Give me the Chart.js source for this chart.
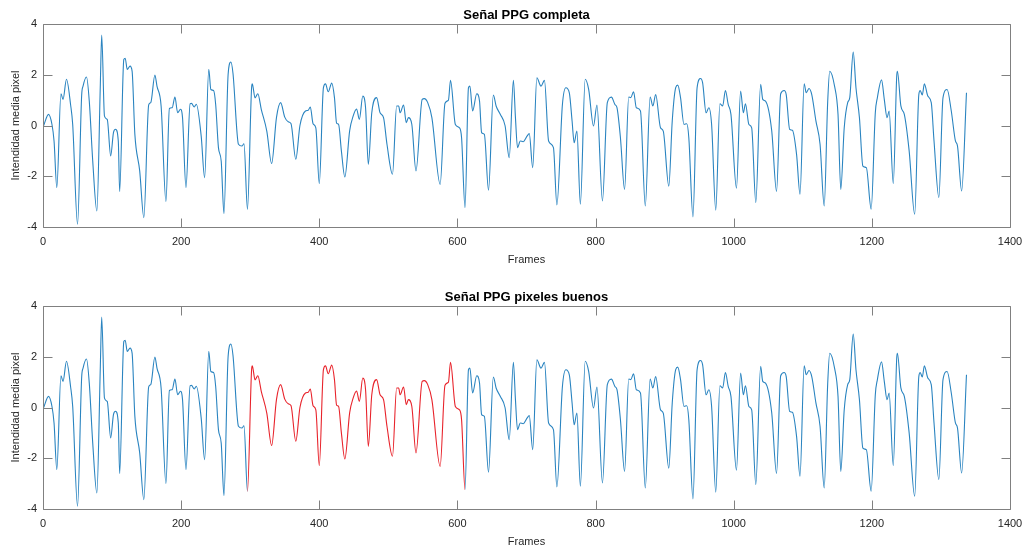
<!DOCTYPE html>
<html>
<head>
<meta charset="utf-8">
<title>Señal PPG</title>
<script src="https://cdn.jsdelivr.net/npm/chart.js@4.4.0/dist/chart.umd.min.js"></script>
<style>
  html, body { margin: 0; padding: 0; background: #fff; overflow: hidden; }
  .panel { position: absolute; left: 0; width: 1026px; height: 282px; }
  #top-panel { top: 0; }
  #bottom-panel { top: 282px; }
</style>
</head>
<body>
<div class="panel" id="top-panel"><canvas id="ppgFull" width="1026" height="282"></canvas></div>
<div class="panel" id="bottom-panel"><canvas id="ppgGood" width="1026" height="282"></canvas></div>
<script>
// PPG samples (frame number / mean pixel intensity), one line per beat
let frames = [
    1, 8, 13, 16, 20,
    26, 29, 34, 40, 43, 50,
    56, 58, 63, 67, 72, 78,
    83, 85, 89, 93, 98, 102, 105, 109, 111,
    117, 119, 122, 126, 129, 133, 140, 146,
    153, 156, 162, 165, 171, 178,
    183, 187, 191, 195, 199, 202, 207,
    213, 215, 219, 222, 229, 234,
    240, 243, 247, 250, 254, 258, 262,
    268, 272, 275, 283, 288, 291, 296,
    302, 303, 307, 311, 316, 324, 331,
    338, 344, 350, 355, 359, 366,
    372, 380, 384, 387, 391, 395, 400,
    406, 409, 413, 418, 422, 425, 428, 432, 437,
    444, 449, 454, 458, 463, 467, 471,
    476, 483, 488, 493, 498, 506,
    512, 515, 517, 522, 526, 529, 534, 540,
    549, 552, 557, 563, 575,
    582, 587, 590, 597, 603, 606, 611,
    616, 618, 622, 628, 632, 635, 639, 645,
    652, 656, 662, 669, 675,
    681, 684, 687, 691, 695, 701, 704, 709,
    715, 721, 726, 732, 739, 744,
    752, 757, 762, 766, 769, 773, 778,
    785, 790, 797, 802, 810,
    817, 823, 828, 831, 836, 842,
    848, 851, 855, 859, 865, 872,
    879, 883, 887, 894, 898, 906,
    911, 916, 919, 923, 928, 932, 935, 941,
    947, 952, 955, 960, 964, 968, 974,
    980, 984, 988, 992, 996, 1004,
    1010, 1014, 1017, 1022, 1026, 1032,
    1039, 1042, 1046, 1055, 1062,
    1068, 1073, 1076, 1081, 1085, 1091, 1096,
    1102, 1105, 1109, 1113, 1119, 1125, 1131,
    1136, 1139, 1146, 1151, 1155,
    1160, 1165, 1168, 1173, 1177, 1182, 1187, 1192, 1199,
    1205, 1208, 1214, 1218, 1222, 1225, 1231,
    1236, 1237, 1242, 1247, 1254, 1262,
    1268, 1270, 1273, 1276, 1281, 1286, 1290, 1297,
    1303, 1309, 1315, 1321, 1324, 1330, 1337
];

let intensity = [
    0.0, 0.44, 0.04, -0.61, -2.45,
    1.25, 1.03, 1.82, 0.81, 0.04, -3.89,
    1.2, 1.55, 1.91, 0.96, -1.4, -3.37,
    1.62, 3.56, 0.37, 0.24, -1.2, -0.28, -0.15, -0.61, -2.6,
    2.6, 2.65, 2.21, 2.34, 2.14, -0.35, -1.79, -3.63,
    0.81, 0.9, 1.99, 1.55, 0.77, -3.0,
    0.67, 0.7, 1.12, 0.5, 0.64, 0.31, -2.45,
    0.86, 0.87, 0.73, 0.84, -0.41, -2.06,
    2.21, 1.42, 1.38, 0.83, -0.87, -1.4, -3.47,
    2.01, 2.5, 2.07, -0.74, -0.81, -0.72, -3.3,
    1.49, 1.64, 1.09, 1.25, 0.64, -0.22, -1.5,
    0.31, 0.9, 0.33, 0.15, 0.08, -1.33,
    0.0, 0.57, 0.6, 0.73, 0.07, -0.09, -2.29,
    1.49, 1.64, 1.33, 1.67, 1.09, 0.1, 0.04, -1.0, -2.03,
    -0.2, 0.37, 0.65, 0.24, 1.16, 0.7, -1.53,
    0.5, 1.1, 0.5, 0.31, -0.74, -1.92,
    0.77, 0.77, 0.5, 0.81, 0.11, 0.31, 0.04, -1.79,
    1.03, 1.06, 0.9, 0.31, -2.32,
    0.88, 1.0, 1.78, 0.04, -0.09, -0.48, -3.24,
    1.49, 1.55, 0.57, 1.25, 0.96, -0.28, -0.35, -2.55,
    1.2, 0.77, 0.44, -0.01, -1.27,
    1.78, 0.31, -0.87, -0.61, -0.64, -0.41, -0.32, -1.66,
    1.88, 1.55, 1.78, -0.61, -0.87, -3.13,
    0.83, 1.49, 1.29, 0.18, -0.68, -0.22, -3.1,
    1.82, 1.42, -0.02, 0.81, -2.97,
    0.9, 1.12, 0.83, 0.7, -0.48, -2.52,
    1.12, 1.1, 1.33, 0.7, 0.57, -3.17,
    1.12, 0.77, 1.22, -0.09, -0.22, -2.39,
    0.18, 1.49, 1.59, 1.1, 0.04, 0.07, -0.48, -3.6,
    1.49, 1.85, 1.68, 0.5, 0.7, 0.04, -3.34,
    0.86, 0.77, 1.38, 0.83, 0.44, -2.47,
    1.36, 0.5, 0.86, 0.04, -0.09, -3.04,
    1.62, 1.03, 0.96, -0.2, -2.6,
    1.25, 1.38, 1.22, -0.15, -0.19, -1.14, -2.71,
    1.64, 1.29, 1.46, 1.22, 0.18, -0.74, -3.17,
    0.9, 2.14, 1.55, 0.44, -2.52,
    -0.09, 0.9, 1.1, 2.89, 1.49, 0.31, -1.6, -1.66, -3.3,
    0.5, 1.1, 1.8, 1.03, 0.31, 0.57, -2.29,
    1.95, 2.14, 0.77, 0.44, -1.0, -3.5,
    1.22, 1.38, 1.2, 1.64, 1.16, 0.9, -0.61, -2.84,
    1.1, 1.42, 0.57, -0.61, -0.81, -2.58, 1.29
];

// frames kept as "good pixels" in the second plot
let goodStart = 296;
let goodEnd = 611;

let xTicks = [0, 200, 400, 600, 800, 1000, 1200, 1400];
let yTicks = [-4, -2, 0, 2, 4];

const fontFamily = "'Liberation Sans', Arial, Helvetica, sans-serif";
const textColor = '#262626';
const axisColor = '#808080';
const blue = '#2a84c0';
const red = '#e8232b';
const tickLen = 9;

let points = frames.map((f, i) => ({ x: f, y: intensity[i] }));

// MATLAB-like box with inward ticks, title centred over the axes
const axesBox = {
    id: 'axesBox',
    afterDatasetsDraw(chart, args, opts) {
        const { ctx, chartArea: a, scales } = chart;
        const l = Math.round(a.left) + 0.5, r = Math.round(a.right) + 0.5;
        const t = Math.round(a.top) + 0.5, b = Math.round(a.bottom) + 0.5;
        ctx.save();
        ctx.strokeStyle = axisColor;
        ctx.lineWidth = 1;
        ctx.beginPath();
        ctx.rect(l, t, r - l, b - t);
        xTicks.forEach((v) => {
            let px = Math.round(scales.x.getPixelForValue(v)) + 0.5;
            ctx.moveTo(px, b); ctx.lineTo(px, b - tickLen);
            ctx.moveTo(px, t); ctx.lineTo(px, t + tickLen);
        });
        yTicks.forEach((v) => {
            let py = Math.round(scales.y.getPixelForValue(v)) + 0.5;
            ctx.moveTo(l, py); ctx.lineTo(l + tickLen, py);
            ctx.moveTo(r, py); ctx.lineTo(r - tickLen, py);
        });
        ctx.stroke();

        ctx.fillStyle = '#000';
        ctx.font = 'bold 13px ' + fontFamily;
        ctx.textAlign = 'center';
        ctx.textBaseline = 'alphabetic';
        ctx.fillText(opts.text, (a.left + a.right) / 2, 19);
        ctx.restore();
    }
};

function makeOptions(titleText) {
    return {
        responsive: false,
        animation: false,
        layout: { padding: { left: 0, right: 16, top: 24, bottom: 0 } },
        plugins: {
            legend: { display: false },
            tooltip: { enabled: false },
            title: { display: false },
            axesBox: { text: titleText }
        },
        scales: {
            x: {
                type: 'linear',
                min: 0,
                max: 1400,
                afterBuildTicks: (s) => { s.ticks = xTicks.map((v) => ({ value: v })); },
                ticks: {
                    color: textColor,
                    font: { family: fontFamily, size: 11 },
                    padding: 8,
                    maxRotation: 0,
                    callback: (v) => String(v)
                },
                grid: { display: false, drawTicks: false },
                border: { display: false },
                title: {
                    display: true,
                    text: 'Frames',
                    color: textColor,
                    font: { family: fontFamily, size: 11 },
                    padding: { top: 0, bottom: 15 }
                },
                afterFit: (s) => {
                    s.height = 55;
                    s.paddingLeft = 0;
                    s.paddingRight = 0;
                }
            },
            y: {
                type: 'linear',
                min: -4,
                max: 4,
                afterBuildTicks: (s) => { s.ticks = yTicks.map((v) => ({ value: v })); },
                ticks: {
                    color: textColor,
                    font: { family: fontFamily, size: 11 },
                    padding: 6,
                    callback: (v) => String(v)
                },
                grid: { display: false, drawTicks: false },
                border: { display: false },
                title: {
                    display: true,
                    text: 'Intendidad media pixel',
                    color: textColor,
                    font: { family: fontFamily, size: 11 },
                    padding: { top: 9, bottom: 0 }
                },
                afterFit: (s) => {
                    s.width = 43;
                    s.paddingTop = 0;
                    s.paddingBottom = 0;
                }
            }
        }
    };
}

new Chart(document.getElementById('ppgFull'), {
    type: 'line',
    data: {
        datasets: [{
            data: points,
            borderColor: blue,
            borderWidth: 1.1,
            pointRadius: 0,
            cubicInterpolationMode: 'monotone'
        }]
    },
    options: makeOptions('Señal PPG completa'),
    plugins: [axesBox]
});

new Chart(document.getElementById('ppgGood'), {
    type: 'line',
    data: {
        datasets: [{
            data: points,
            borderColor: blue,
            borderWidth: 1.1,
            pointRadius: 0,
            cubicInterpolationMode: 'monotone',
            segment: {
                borderColor: (ctx) => (ctx.p0.parsed.x >= goodStart && ctx.p1.parsed.x <= goodEnd) ? red : blue
            }
        }]
    },
    options: makeOptions('Señal PPG pixeles buenos'),
    plugins: [axesBox]
});
</script>
</body>
</html>
